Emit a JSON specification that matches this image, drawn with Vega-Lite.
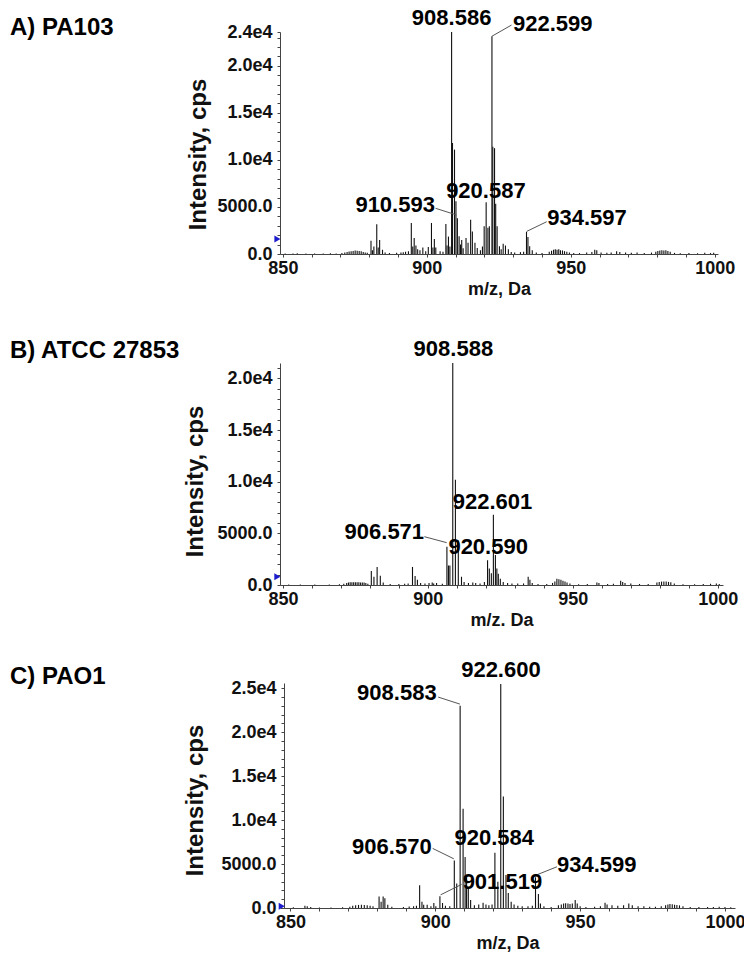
{
"$schema": "https://vega.github.io/schema/vega-lite/v6.json",
"background": "white",
"padding": {"left": 10, "top": 7, "right": 5, "bottom": 5},
"bounds": "flush",
"spacing": 109,
"config": {"font": "Liberation Sans", "view": {"stroke": null},
 "axis": {"labelFont": "Liberation Sans", "titleFont": "Liberation Sans", "labelFontWeight": "bold", "titleFontWeight": "bold", "labelColor": "#111", "titleColor": "#111", "domainColor": "#444", "tickColor": "#444", "tickSize": 3, "grid": false, "labelOverlap": false, "labelFlush": false},
 "axisY": {"titleFontSize": 24, "titleLimit": 400},
 "axisX": {"titleFontSize": 18}},
"datasets": {
"specA": [{"mz":850.8,"intensity":60},{"mz":853.5,"intensity":50},{"mz":855,"intensity":70},{"mz":858,"intensity":50},{"mz":861,"intensity":50},{"mz":864,"intensity":60},{"mz":866.5,"intensity":80},{"mz":868.5,"intensity":60},{"mz":870.5,"intensity":100},{"mz":871.5,"intensity":150},{"mz":872.3,"intensity":200},{"mz":873,"intensity":260},{"mz":873.7,"intensity":300},{"mz":874.4,"intensity":330},{"mz":875.1,"intensity":380},{"mz":875.8,"intensity":350},{"mz":876.5,"intensity":330},{"mz":877.2,"intensity":300},{"mz":877.9,"intensity":220},{"mz":878.6,"intensity":160},{"mz":879.3,"intensity":120},
{"mz":880.6,"intensity":1400},{"mz":881.1,"intensity":400},{"mz":881.6,"intensity":800},{"mz":882.6,"intensity":3150},{"mz":883.1,"intensity":700},{"mz":883.6,"intensity":1500},{"mz":884.6,"intensity":450},{"mz":885.5,"intensity":150},{"mz":887,"intensity":100},{"mz":889.5,"intensity":120},{"mz":891,"intensity":150},{"mz":891.8,"intensity":180},{"mz":892.6,"intensity":250},{"mz":893.6,"intensity":300},
{"mz":894.6,"intensity":3300},{"mz":895.1,"intensity":800},{"mz":895.6,"intensity":1700},{"mz":896.2,"intensity":900},{"mz":896.8,"intensity":500},{"mz":897.6,"intensity":400},{"mz":898.6,"intensity":700},{"mz":899.6,"intensity":300},{"mz":900.5,"intensity":750},{"mz":901.6,"intensity":3300},{"mz":902.1,"intensity":700},{"mz":902.6,"intensity":1600},{"mz":903.1,"intensity":700},{"mz":904.6,"intensity":300},{"mz":905.6,"intensity":250},
{"mz":906.6,"intensity":3200},{"mz":907.0,"intensity":900},{"mz":907.5,"intensity":1850},{"mz":908.0,"intensity":800},{"mz":908.59,"intensity":23600},{"mz":908.9,"intensity":11800},{"mz":909.6,"intensity":11100},{"mz":910.1,"intensity":5600},{"mz":910.6,"intensity":3800},{"mz":911.2,"intensity":1900},{"mz":911.7,"intensity":1000},{"mz":912.1,"intensity":1500},{"mz":912.6,"intensity":600},{"mz":913.6,"intensity":1700},{"mz":914.3,"intensity":1200},{"mz":915.2,"intensity":3650},{"mz":915.8,"intensity":2400},{"mz":916.7,"intensity":1200},{"mz":917.5,"intensity":650},{"mz":918.6,"intensity":400},{"mz":919.3,"intensity":800},{"mz":919.9,"intensity":2950},{"mz":920.59,"intensity":5500},{"mz":921.2,"intensity":2800},{"mz":921.7,"intensity":2950},{"mz":922.6,"intensity":23150},{"mz":922.9,"intensity":11400},{"mz":923.5,"intensity":11250},{"mz":923.9,"intensity":5350},{"mz":924.4,"intensity":2950},{"mz":925.2,"intensity":830},{"mz":925.8,"intensity":500},{"mz":926.5,"intensity":1100},{"mz":927.3,"intensity":900},{"mz":928.3,"intensity":500},{"mz":929.3,"intensity":200},{"mz":930.5,"intensity":150},{"mz":932.5,"intensity":200},{"mz":933.6,"intensity":250},{"mz":934.6,"intensity":2350},{"mz":935.1,"intensity":1800},{"mz":935.7,"intensity":830},{"mz":936.6,"intensity":400},{"mz":938,"intensity":150},{"mz":940,"intensity":100},{"mz":942.5,"intensity":250},{"mz":943.3,"intensity":350},{"mz":944,"intensity":450},{"mz":944.6,"intensity":500},{"mz":945.2,"intensity":450},{"mz":945.8,"intensity":500},{"mz":946.4,"intensity":400},{"mz":947.1,"intensity":380},{"mz":947.8,"intensity":300},{"mz":948.6,"intensity":250},{"mz":949.5,"intensity":150},{"mz":951,"intensity":100},{"mz":953,"intensity":100},{"mz":955.5,"intensity":150},{"mz":957.3,"intensity":200},{"mz":958.3,"intensity":450},{"mz":959,"intensity":400},{"mz":960.5,"intensity":150},{"mz":962.5,"intensity":120},{"mz":964,"intensity":150},{"mz":965.9,"intensity":300},{"mz":967,"intensity":200},{"mz":969,"intensity":150},{"mz":971,"intensity":120},{"mz":973,"intensity":150},{"mz":975.5,"intensity":100},{"mz":978,"intensity":150},{"mz":979.5,"intensity":250},{"mz":980.2,"intensity":320},{"mz":980.9,"intensity":380},{"mz":981.6,"intensity":400},{"mz":982.3,"intensity":380},{"mz":983,"intensity":400},{"mz":983.7,"intensity":330},{"mz":984.5,"intensity":250},{"mz":986,"intensity":120},{"mz":988,"intensity":80},{"mz":991,"intensity":100},{"mz":994,"intensity":80},{"mz":996.5,"intensity":120},{"mz":998.5,"intensity":100},{"mz":999.6,"intensity":120}],
"labA": [{"mz":908.6,"intensity":25050,"text":"908.586","pos":"c"},{"mz":929.9,"intensity":24450,"text":"922.599","pos":"l"},{"mz":920.5,"intensity":6700,"text":"920.587","pos":"c"},{"mz":902.8,"intensity":5200,"text":"910.593","pos":"r"},{"mz":941.8,"intensity":3800,"text":"934.597","pos":"l"}],
"leadA": [{"mz":922.6,"intensity":23150,"mz2":929.4,"intensity2":24340},{"mz":903.0,"intensity":4860,"mz2":910.3,"intensity2":4150},{"mz":934.65,"intensity":2400,"mz2":941.6,"intensity2":3430}],
"markA": [{"mz":848.1,"intensity":1600}],
"specB": [{"mz":852,"intensity":50},{"mz":856,"intensity":60},{"mz":861,"intensity":50},{"mz":866,"intensity":60},{"mz":869.5,"intensity":80},{"mz":871,"intensity":120},{"mz":872,"intensity":200},{"mz":872.6,"intensity":250},{"mz":873.2,"intensity":260},{"mz":873.8,"intensity":260},{"mz":874.4,"intensity":260},{"mz":875,"intensity":270},{"mz":875.6,"intensity":260},{"mz":876.2,"intensity":260},{"mz":876.8,"intensity":250},{"mz":877.4,"intensity":250},{"mz":878,"intensity":240},{"mz":878.6,"intensity":200},{"mz":879.3,"intensity":120},
{"mz":880.5,"intensity":1350},{"mz":881.4,"intensity":800},{"mz":882.5,"intensity":1750},{"mz":883.6,"intensity":900},{"mz":884.6,"intensity":250},{"mz":887,"intensity":100},{"mz":890,"intensity":100},{"mz":892,"intensity":120},{"mz":893.2,"intensity":150},
{"mz":894.7,"intensity":1750},{"mz":895.6,"intensity":870},{"mz":896.4,"intensity":500},{"mz":897.5,"intensity":200},{"mz":899,"intensity":150},{"mz":900.4,"intensity":200},{"mz":901.5,"intensity":250},{"mz":902,"intensity":150},{"mz":903,"intensity":200},{"mz":905,"intensity":120},
{"mz":906.57,"intensity":3700},{"mz":907.1,"intensity":1900},{"mz":907.6,"intensity":1900},{"mz":908.59,"intensity":21500},{"mz":909.5,"intensity":10200},{"mz":910.5,"intensity":4300},{"mz":911.6,"intensity":800},{"mz":912.5,"intensity":300},{"mz":914,"intensity":200},{"mz":915.5,"intensity":250},{"mz":916.5,"intensity":200},{"mz":918,"intensity":150},{"mz":919.5,"intensity":300},
{"mz":920.59,"intensity":2400},{"mz":921.2,"intensity":1600},{"mz":921.9,"intensity":1150},{"mz":922.6,"intensity":6800},{"mz":923.3,"intensity":2900},{"mz":923.8,"intensity":1600},{"mz":924.3,"intensity":1100},{"mz":925,"intensity":600},{"mz":926,"intensity":300},{"mz":927.5,"intensity":200},{"mz":929,"intensity":150},{"mz":931,"intensity":150},{"mz":933,"intensity":150},
{"mz":934.6,"intensity":800},{"mz":935.2,"intensity":500},{"mz":936,"intensity":200},{"mz":938,"intensity":100},{"mz":941,"intensity":100},{"mz":943,"intensity":200},{"mz":943.8,"intensity":350},{"mz":944.5,"intensity":600},{"mz":945.2,"intensity":550},{"mz":945.9,"intensity":500},{"mz":946.6,"intensity":400},{"mz":947.3,"intensity":350},{"mz":948,"intensity":250},{"mz":949,"intensity":150},{"mz":952,"intensity":80},{"mz":955,"intensity":100},{"mz":958.3,"intensity":250},{"mz":959,"intensity":200},{"mz":962,"intensity":100},{"mz":964,"intensity":120},{"mz":966.5,"intensity":400},{"mz":967.2,"intensity":300},{"mz":968,"intensity":200},{"mz":970,"intensity":150},{"mz":973,"intensity":100},{"mz":976,"intensity":100},{"mz":979,"intensity":250},{"mz":979.8,"intensity":300},{"mz":980.6,"intensity":330},{"mz":981.4,"intensity":350},{"mz":982.2,"intensity":330},{"mz":983,"intensity":300},{"mz":983.8,"intensity":260},{"mz":985,"intensity":150},{"mz":988,"intensity":80},{"mz":992,"intensity":80},{"mz":995,"intensity":100},{"mz":997.5,"intensity":120},{"mz":999.5,"intensity":150},{"mz":1000.5,"intensity":100}],
"labB": [{"mz":908.8,"intensity":22900,"text":"908.588","pos":"c"},{"mz":922.3,"intensity":8060,"text":"922.601","pos":"c"},{"mz":920.8,"intensity":3710,"text":"920.590","pos":"c"},{"mz":898.7,"intensity":5160,"text":"906.571","pos":"r"}],
"leadB": [{"mz":898.8,"intensity":4680,"mz2":906.5,"intensity2":4100}],
"markB": [{"mz":848.1,"intensity":800}],
"specC": [{"mz":851,"intensity":80},{"mz":855,"intensity":250},{"mz":855.8,"intensity":200},{"mz":857,"intensity":100},{"mz":860,"intensity":60},{"mz":864,"intensity":60},{"mz":868,"intensity":80},{"mz":870.5,"intensity":150},{"mz":871.5,"intensity":250},{"mz":872.5,"intensity":300},{"mz":873.5,"intensity":350},{"mz":874.5,"intensity":380},{"mz":875.5,"intensity":350},{"mz":876.5,"intensity":320},{"mz":877.5,"intensity":250},{"mz":878.5,"intensity":200},
{"mz":880.6,"intensity":1300},{"mz":881.3,"intensity":720},{"mz":882.0,"intensity":1300},{"mz":882.6,"intensity":1100},{"mz":883.6,"intensity":380},{"mz":885,"intensity":150},{"mz":889,"intensity":120},{"mz":891,"intensity":180},{"mz":892.5,"intensity":200},{"mz":893.5,"intensity":250},
{"mz":894.6,"intensity":2600},{"mz":895.4,"intensity":720},{"mz":896,"intensity":380},{"mz":897.2,"intensity":380},{"mz":898.5,"intensity":200},{"mz":899.5,"intensity":570},{"mz":900.2,"intensity":200},{"mz":901.6,"intensity":1350},{"mz":902.5,"intensity":570},{"mz":903.5,"intensity":250},{"mz":905,"intensity":200},
{"mz":906.57,"intensity":5400},{"mz":907.4,"intensity":2800},{"mz":908.58,"intensity":23000},{"mz":909.6,"intensity":11300},{"mz":910.3,"intensity":5800},{"mz":910.8,"intensity":3500},{"mz":911.4,"intensity":2400},{"mz":912.2,"intensity":900},{"mz":913.5,"intensity":300},{"mz":915,"intensity":400},{"mz":916.5,"intensity":600},{"mz":917.5,"intensity":400},{"mz":918.5,"intensity":300},{"mz":919.6,"intensity":400},
{"mz":920.58,"intensity":6300},{"mz":921.6,"intensity":2990},{"mz":922.6,"intensity":25500},{"mz":923.5,"intensity":12700},{"mz":924.4,"intensity":3750},{"mz":925.2,"intensity":1700},{"mz":926.2,"intensity":700},{"mz":927.2,"intensity":400},{"mz":928.5,"intensity":250},{"mz":930,"intensity":200},{"mz":932,"intensity":200},{"mz":933.5,"intensity":250},
{"mz":934.6,"intensity":3500},{"mz":935.6,"intensity":1600},{"mz":936.3,"intensity":500},{"mz":937.5,"intensity":200},{"mz":940,"intensity":100},{"mz":942.5,"intensity":300},{"mz":943.5,"intensity":400},{"mz":944.3,"intensity":500},{"mz":945,"intensity":550},{"mz":945.8,"intensity":500},{"mz":946.5,"intensity":450},{"mz":947.3,"intensity":500},{"mz":948.3,"intensity":900},{"mz":949,"intensity":500},{"mz":950,"intensity":200},{"mz":952,"intensity":100},{"mz":955,"intensity":150},{"mz":957,"intensity":200},{"mz":958.6,"intensity":600},{"mz":959.3,"intensity":400},{"mz":961,"intensity":300},{"mz":963,"intensity":250},{"mz":965,"intensity":300},{"mz":966.8,"intensity":500},{"mz":968,"intensity":300},{"mz":970,"intensity":200},{"mz":972,"intensity":200},{"mz":974,"intensity":150},{"mz":976,"intensity":150},{"mz":978,"intensity":200},{"mz":979.5,"intensity":300},{"mz":980.3,"intensity":400},{"mz":981,"intensity":450},{"mz":981.8,"intensity":420},{"mz":982.6,"intensity":380},{"mz":983.4,"intensity":350},{"mz":984.3,"intensity":300},{"mz":985.5,"intensity":200},{"mz":988,"intensity":100},{"mz":991,"intensity":100},{"mz":994,"intensity":120},{"mz":996,"intensity":100},{"mz":998,"intensity":150},{"mz":1000,"intensity":100},{"mz":1002,"intensity":80}],
"labC": [{"mz":922.66,"intensity":27100,"text":"922.600","pos":"c"},{"mz":900.47,"intensity":24460,"text":"908.583","pos":"r"},{"mz":898.74,"intensity":6900,"text":"906.570","pos":"r"},{"mz":920.35,"intensity":7920,"text":"920.584","pos":"c"},{"mz":909.44,"intensity":2990,"text":"901.519","pos":"l"},{"mz":942.0,"intensity":4880,"text":"934.599","pos":"l"}],
"leadC": [{"mz":901.0,"intensity":24000,"mz2":908.5,"intensity2":23200},{"mz":899.1,"intensity":6780,"mz2":906.4,"intensity2":5600},{"mz":901.85,"intensity":1500,"mz2":909.1,"intensity2":2690},{"mz":934.5,"intensity":3700,"mz2":942.0,"intensity2":4690}],
"markC": [{"mz":847.0,"intensity":200}]
},
"vconcat": [
{
 "width": 438, "height": 222,
 "title": {"text": "A) PA103", "anchor": "start", "frame": "group", "dx": -270, "offset": -45, "baseline": "middle", "fontSize": 24, "fontWeight": "bold", "font": "Liberation Sans", "color": "#000"},
 "encoding": {
  "x": {"field": "mz", "type": "quantitative", "scale": {"domain": [849, 1001.1], "nice": false, "zero": false},
    "axis": {"title": "m/z, Da", "values": [850,860,870,880,890,900,910,920,930,940,950,960,970,980,990,1000], "labelExpr": "datum.value % 50 === 0 ? '' + datum.value : ''", "labelOverlap": false, "labelFlush": false, "labelFontSize": 18, "labelPadding": 2, "titleFontSize": 18, "titlePadding": 3, "tickSize": 3}},
  "y": {"field": "intensity", "type": "quantitative", "scale": {"domain": [0, 23600], "nice": false},
    "axis": {"title": "Intensity, cps", "values": [0,1000,2000,3000,4000,5000,6000,7000,8000,9000,10000,11000,12000,13000,14000,15000,16000,17000,18000,19000,20000,21000,22000,23000,23600],
      "labelExpr": "datum.value == 0 ? '0.0' : datum.value == 5000 ? '5000.0' : (datum.value % 5000 == 0 || datum.value == 23600) ? format(datum.value / 10000, '.1f') + 'e4' : ''",
      "labelOverlap": false, "labelFlush": false, "labelFontSize": 18, "labelPadding": 5, "tickSize": 3, "titleFontSize": 24, "titleAngle": 270, "titleX": -82, "titleY": 122, "titleAlign": "center", "titleBaseline": "middle"}}
 },
 "layer": [
  {"data": {"name": "specA"}, "mark": {"type": "rule", "color": "#111", "strokeWidth": 1.1}, "encoding": {"y2": {"datum": 0}}},
  {"data": {"name": "leadA"}, "mark": {"type": "rule", "color": "#555", "strokeWidth": 1}, "encoding": {"x2": {"field": "mz2"}, "y2": {"field": "intensity2"}}},
  {"data": {"name": "labA"}, "transform": [{"filter": "datum.pos == 'c'"}], "mark": {"type": "text", "align": "center", "baseline": "middle", "fontSize": 22, "fontWeight": "bold", "font": "Liberation Sans", "color": "#000"}, "encoding": {"text": {"field": "text"}}},
  {"data": {"name": "labA"}, "transform": [{"filter": "datum.pos == 'l'"}], "mark": {"type": "text", "align": "left", "baseline": "middle", "fontSize": 22, "fontWeight": "bold", "font": "Liberation Sans", "color": "#000"}, "encoding": {"text": {"field": "text"}}},
  {"data": {"name": "labA"}, "transform": [{"filter": "datum.pos == 'r'"}], "mark": {"type": "text", "align": "right", "baseline": "middle", "fontSize": 22, "fontWeight": "bold", "font": "Liberation Sans", "color": "#000"}, "encoding": {"text": {"field": "text"}}},
  {"data": {"name": "markA"}, "mark": {"type": "point", "shape": "triangle-right", "filled": true, "color": "#1c1ccc", "size": 50, "opacity": 1}}
 ]
},
{
 "vconcat": [
 {
  "width": 443, "height": 222,
  "title": {"text": "B) ATCC 27853", "anchor": "start", "frame": "group", "dx": -270, "offset": -37, "baseline": "middle", "fontSize": 24, "fontWeight": "bold", "font": "Liberation Sans", "color": "#000"},
  "encoding": {
   "x": {"field": "mz", "type": "quantitative", "scale": {"domain": [849, 1001.8], "nice": false, "zero": false},
     "axis": {"title": "m/z. Da", "values": [850,860,870,880,890,900,910,920,930,940,950,960,970,980,990,1000], "labelExpr": "datum.value % 50 === 0 ? '' + datum.value : ''", "labelOverlap": false, "labelFlush": false, "labelFontSize": 18, "labelPadding": 2, "titleFontSize": 18, "titlePadding": 3, "tickSize": 3}},
   "y": {"field": "intensity", "type": "quantitative", "scale": {"domain": [0, 21500], "nice": false},
     "axis": {"title": "Intensity, cps", "values": [0,1000,2000,3000,4000,5000,6000,7000,8000,9000,10000,11000,12000,13000,14000,15000,16000,17000,18000,19000,20000,21000],
       "labelExpr": "datum.value == 0 ? '0.0' : datum.value == 5000 ? '5000.0' : (datum.value % 5000 == 0) ? format(datum.value / 10000, '.1f') + 'e4' : ''",
       "labelOverlap": false, "labelFlush": false, "labelFontSize": 18, "labelPadding": 5, "tickSize": 3, "titleFontSize": 24, "titleAngle": 270, "titleX": -85, "titleY": 118, "titleAlign": "center", "titleBaseline": "middle"}}
  },
  "layer": [
   {"data": {"name": "specB"}, "mark": {"type": "rule", "color": "#111", "strokeWidth": 1.1}, "encoding": {"y2": {"datum": 0}}},
   {"data": {"name": "leadB"}, "mark": {"type": "rule", "color": "#555", "strokeWidth": 1}, "encoding": {"x2": {"field": "mz2"}, "y2": {"field": "intensity2"}}},
   {"data": {"name": "labB"}, "transform": [{"filter": "datum.pos == 'c'"}], "mark": {"type": "text", "align": "center", "baseline": "middle", "fontSize": 22, "fontWeight": "bold", "font": "Liberation Sans", "color": "#000"}, "encoding": {"text": {"field": "text"}}},
   {"data": {"name": "labB"}, "transform": [{"filter": "datum.pos == 'r'"}], "mark": {"type": "text", "align": "right", "baseline": "middle", "fontSize": 22, "fontWeight": "bold", "font": "Liberation Sans", "color": "#000"}, "encoding": {"text": {"field": "text"}}},
   {"data": {"name": "markB"}, "mark": {"type": "point", "shape": "triangle-right", "filled": true, "color": "#1c1ccc", "size": 50, "opacity": 1}}
  ]
 },
 {
  "width": 455, "height": 225,
  "title": {"text": "C) PAO1", "anchor": "start", "frame": "group", "dx": -270, "offset": -42, "baseline": "middle", "fontSize": 24, "fontWeight": "bold", "font": "Liberation Sans", "color": "#000"},
  "encoding": {
   "x": {"field": "mz", "type": "quantitative", "scale": {"domain": [846.4, 1003.46], "nice": false, "zero": false},
     "axis": {"title": "m/z, Da", "values": [850,860,870,880,890,900,910,920,930,940,950,960,970,980,990,1000], "labelExpr": "datum.value % 50 === 0 ? '' + datum.value : ''", "labelOverlap": false, "labelFlush": false, "labelFontSize": 18, "labelPadding": 2, "titleFontSize": 18, "titlePadding": 3, "tickSize": 3}},
   "y": {"field": "intensity", "type": "quantitative", "scale": {"domain": [0, 25600], "nice": false},
     "axis": {"title": "Intensity, cps", "offset": -4, "values": [0,1000,2000,3000,4000,5000,6000,7000,8000,9000,10000,11000,12000,13000,14000,15000,16000,17000,18000,19000,20000,21000,22000,23000,24000,25000],
       "labelExpr": "datum.value == 0 ? '0.0' : datum.value == 5000 ? '5000.0' : (datum.value % 5000 == 0) ? format(datum.value / 10000, '.1f') + 'e4' : ''",
       "labelOverlap": false, "labelFlush": false, "labelFontSize": 18, "labelPadding": 5, "tickSize": 3, "titleFontSize": 24, "titleAngle": 270, "titleX": -89, "titleY": 117, "titleAlign": "center", "titleBaseline": "middle"}}
  },
  "layer": [
   {"data": {"name": "specC"}, "mark": {"type": "rule", "color": "#111", "strokeWidth": 1.1}, "encoding": {"y2": {"datum": 0}}},
   {"data": {"name": "leadC"}, "mark": {"type": "rule", "color": "#555", "strokeWidth": 1}, "encoding": {"x2": {"field": "mz2"}, "y2": {"field": "intensity2"}}},
   {"data": {"name": "labC"}, "transform": [{"filter": "datum.pos == 'c'"}], "mark": {"type": "text", "align": "center", "baseline": "middle", "fontSize": 22, "fontWeight": "bold", "font": "Liberation Sans", "color": "#000"}, "encoding": {"text": {"field": "text"}}},
   {"data": {"name": "labC"}, "transform": [{"filter": "datum.pos == 'l'"}], "mark": {"type": "text", "align": "left", "baseline": "middle", "fontSize": 22, "fontWeight": "bold", "font": "Liberation Sans", "color": "#000"}, "encoding": {"text": {"field": "text"}}},
   {"data": {"name": "labC"}, "transform": [{"filter": "datum.pos == 'r'"}], "mark": {"type": "text", "align": "right", "baseline": "middle", "fontSize": 22, "fontWeight": "bold", "font": "Liberation Sans", "color": "#000"}, "encoding": {"text": {"field": "text"}}},
   {"data": {"name": "markC"}, "mark": {"type": "point", "shape": "triangle-right", "filled": true, "color": "#1c1ccc", "size": 50, "opacity": 1}}
  ]
 }
 ],
 "spacing": 98,
 "bounds": "flush"
}
]
}
